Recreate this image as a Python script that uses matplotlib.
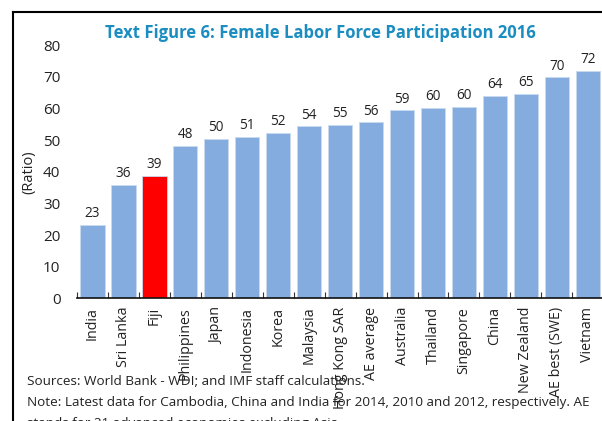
import matplotlib
matplotlib.use("Agg")
import matplotlib.pyplot as plt
from matplotlib.lines import Line2D

plt.rcParams['font.family'] = ['Open Sans', 'DejaVu Sans']

categories = ["India", "Sri Lanka", "Fiji", "Philippines", "Japan", "Indonesia", "Korea",
              "Malaysia", "Hong Kong SAR", "AE average", "Australia", "Thailand", "Singapore",
              "China", "New Zealand", "AE best (SWE)", "Vietnam"]
values = [23.3, 35.8, 38.6, 48.1, 50.3, 50.9, 52.2, 54.3, 54.9, 55.6, 59.4, 60.2, 60.4,
          63.9, 64.6, 69.8, 71.9]
labels = ["23", "36", "39", "48", "50", "51", "52", "54", "55", "56", "59", "60", "60",
          "64", "65", "70", "72"]
highlight = "Fiji"

title = "Text Figure 6: Female Labor Force Participation 2016"
ylabel = "(Ratio)"
notes = ["Sources: World Bank - WDI; and IMF staff calculations.",
         "Note: Latest data for Cambodia, China and India for 2014, 2010 and 2012, respectively. AE",
         "stands for 21 advanced economies excluding Asia."]

fig = plt.figure(figsize=(6.02, 4.21), dpi=100)
ax = fig.add_axes([0.128, 0.291, 0.874, 0.602])

colors = ["#FF0000" if c == highlight else "#84ACDE" for c in categories]
x = list(range(len(categories)))
bars = ax.bar(x, values, width=0.78, color=colors, edgecolor="#C9DAF0", linewidth=0.6, zorder=2)
for xi, v, lab in zip(x, values, labels):
    ax.text(xi, v + 1.2, lab, ha="center", va="bottom", fontsize=9.8, color="#222222")

ax.set_xlim(-0.5, len(categories) - 0.5)
ax.set_ylim(0, 80)
ax.set_yticks(range(0, 81, 10))
ax.tick_params(axis="y", length=0, labelsize=11, pad=12, colors="#222222")
ax.set_xticks(x)
ax.set_xticklabels(categories, rotation=90, fontsize=10.3, color="#222222")
ax.tick_params(axis="x", length=0, pad=6)
# boundary ticks
ax.set_xticks([i - 0.5 for i in range(len(categories) + 1)], minor=True)
ax.tick_params(axis="x", which="minor", length=4, width=0.8, direction="in", color="#333333")
for s in ["top", "right", "left"]:
    ax.spines[s].set_visible(False)
ax.spines["bottom"].set_linewidth(1.2)
ax.spines["bottom"].set_color("#111111")
ax.set_ylabel(ylabel, fontsize=10.5, labelpad=5, color="#222222")

fig.text(0.532, 0.921, title, ha="center", va="center", fontsize=12, fontweight="bold",
         color="#1B8DC0")

for i, line in enumerate(notes):
    fig.text(0.045, 0.095 - i * 0.05, line, ha="left", va="center", fontsize=9.7, color="#222222")

# outer frame (left and top)
fig.add_artist(Line2D([0.021, 0.021], [0.0, 0.971], transform=fig.transFigure, color="black", lw=1.5))
fig.add_artist(Line2D([0.021, 1.0], [0.971, 0.971], transform=fig.transFigure, color="black", lw=1.5))

fig.savefig("out.png", dpi=100)
